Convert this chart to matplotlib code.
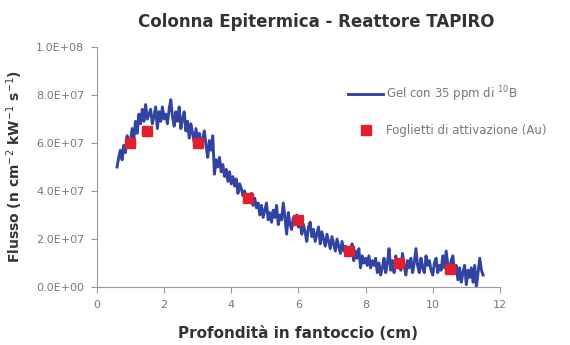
import numpy as np
import matplotlib
matplotlib.use('Agg')
import matplotlib.pyplot as plt

plt.rcParams['font.family'] = ['DejaVu Sans']

# profilo del gel, passo 0.05 cm da 0.6 a 11.5 cm (flusso in unità di 1e7)
gel_flux = [5.0, 5.4, 5.7, 5.3, 5.9, 5.6, 6.3, 5.9, 6.1, 6.6,
            6.2, 6.9, 6.4, 7.2, 6.8, 7.4, 6.9, 7.6, 7.0, 7.2,
            7.4, 6.8, 7.1, 7.5, 6.6, 7.3, 6.9, 7.5, 7.0, 7.2,
            6.8, 7.4, 7.8, 7.1, 6.7, 7.3, 6.9, 7.5, 6.6, 7.0,
            7.3, 6.5, 6.9, 6.2, 6.8, 6.4, 6.0, 6.6, 6.1, 6.4,
            5.8, 6.2, 6.5, 5.9, 5.4, 6.1, 5.7, 6.3, 4.7, 5.3,
            5.0, 5.4, 4.8, 5.1, 4.6, 4.9, 4.4, 4.8, 4.3, 4.6,
            4.2, 4.5, 3.9, 4.3, 4.1, 3.8, 4.0, 3.6, 3.8, 3.6,
            3.9, 3.4, 3.7, 3.3, 3.5, 3.0, 3.4, 2.9, 3.2, 3.5,
            2.8, 3.1, 2.7, 3.2, 2.9, 3.4, 2.6, 3.0, 2.8, 3.5,
            2.9, 2.2, 3.1, 2.6, 2.4, 2.9, 2.7, 3.0, 2.5, 2.8,
            2.2, 2.6, 2.3, 1.9, 2.5, 2.7, 2.1, 2.4, 1.9, 2.2,
            2.5, 1.8, 2.3, 2.0, 1.7, 2.2, 1.9, 1.6, 2.1, 1.8,
            1.5, 2.0, 1.7, 1.4, 1.9, 1.5, 1.7, 1.3, 1.6, 1.4,
            1.8, 1.1, 1.5, 1.2, 1.6, 0.8, 1.3, 1.0, 1.2, 0.9,
            1.3, 0.8, 1.1, 0.9, 1.2, 0.6, 1.0, 0.5, 0.8, 1.2,
            0.6, 1.0, 1.6, 0.7, 1.1, 0.6, 1.3, 0.8, 1.0, 0.7,
            1.4, 0.9, 0.5, 1.1, 0.8, 1.2, 0.6, 1.0, 1.6, 0.9,
            0.6, 1.2, 0.8, 0.6, 1.3, 0.9, 1.1, 0.7, 0.5, 1.0,
            1.2, 0.6, 0.9, 0.7, 1.3, 0.8, 1.5, 0.9, 0.7, 1.1,
            1.3, 0.6, 0.9, 0.3, 0.8, 0.2, 0.6, 0.9, 0.1, 0.7,
            0.4, 0.8, 0.2, 0.9, 0.0, 0.6, 1.2, 0.7, 0.5]
gel_depth = np.linspace(0.6, 11.5, len(gel_flux))

# foglietti di attivazione (Au)
foil_depth = [1.0, 1.5, 3.0, 4.5, 6.0, 7.5, 9.0, 10.5]
foil_flux = [6.0, 6.5, 6.0, 3.7, 2.8, 1.5, 1.0, 0.75]

yticks = [0, 2e7, 4e7, 6e7, 8e7, 1e8]
ytick_labels = ['0.0E+00', '2.0E+07', '4.0E+07', '6.0E+07', '8.0E+07', '1.0E+08']
xticks = [0, 2, 4, 6, 8, 10, 12]

fig = plt.figure(figsize=(5.7, 3.45), dpi=100)
ax = fig.add_axes([0.170, 0.168, 0.707, 0.696])

ax.plot(gel_depth, np.array(gel_flux) * 1e7, color='#3143a3', lw=2.1,
        label='Gel con 35 ppm di $^{10}$B', zorder=2)
ax.plot(foil_depth, np.array(foil_flux) * 1e7, 's', color='#e0202e', ms=7,
        label='Foglietti di attivazione (Au)', zorder=3)

ax.set_xlim(0, 12)
ax.set_ylim(0, 1e8)
ax.set_xticks(xticks)
ax.set_yticks(yticks)
ax.set_yticklabels(ytick_labels)
ax.tick_params(labelsize=8, colors='#999999', labelcolor='#777777',
               length=4, pad=5)
for s in ['top', 'right']:
    ax.spines[s].set_visible(False)
for s in ['left', 'bottom']:
    ax.spines[s].set_color('#999999')

ax.set_title('Colonna Epitermica - Reattore TAPIRO', fontsize=12,
             fontweight='bold', color='#333333', pad=14, x=0.545)
ax.set_xlabel('Profondità in fantoccio (cm)', fontsize=11, fontweight='bold',
              color='#333333', labelpad=12)
ax.set_ylabel('Flusso (n cm$^{-2}$ kW$^{-1}$ s$^{-1}$)', fontsize=10,
              fontweight='bold', color='#333333', labelpad=8)

leg = ax.legend(loc='upper left', bbox_to_anchor=(0.623, 0.845), frameon=False,
                fontsize=8.5, labelspacing=1.7, handlelength=3,
                handletextpad=0.2, borderpad=0, borderaxespad=0)
for t in leg.get_texts():
    t.set_color('#777777')

fig.savefig('out.png', dpi=100)
